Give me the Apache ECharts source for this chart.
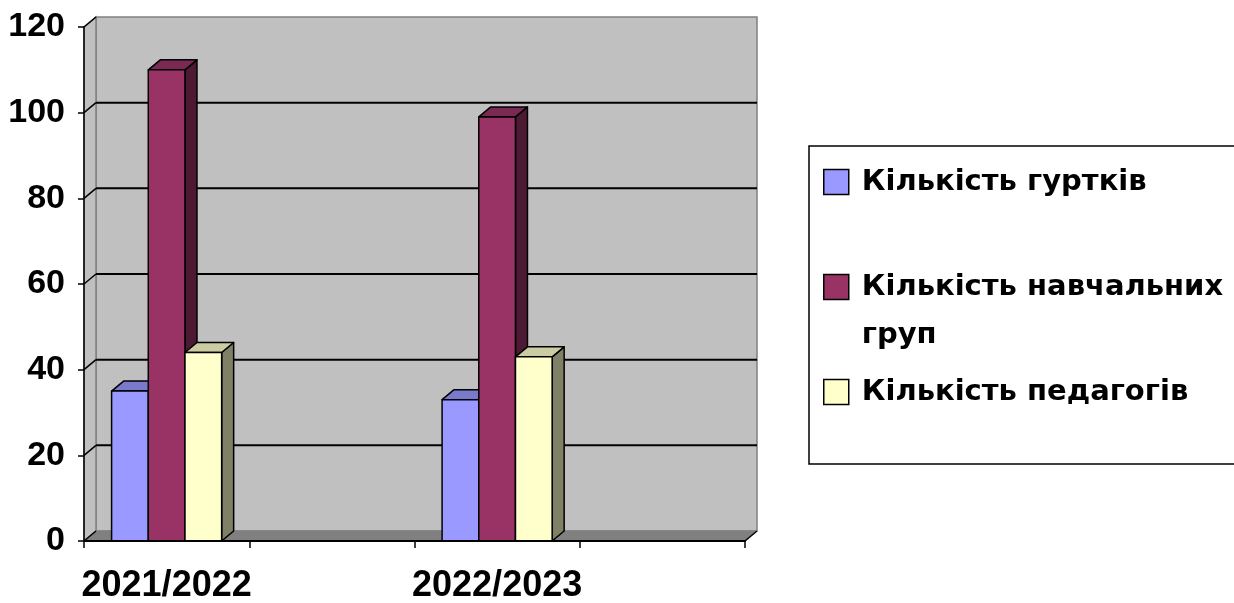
<!DOCTYPE html>
<html><head><meta charset="utf-8">
<script src="https://cdn.jsdelivr.net/npm/echarts@6/dist/echarts.min.js"></script>
<style>html,body{margin:0;padding:0;background:#fff}#c{width:1234px;height:603px}</style>
</head><body><div id="c"></div>
<script>
// ---- data ----
const categories = ['2021/2022', '', '2022/2023', ''];
const seriesNames = ['Кількість гуртків', 'Кількість навчальних груп', 'Кількість педагогів'];
const clubs = [35, null, 33, null];
const studyGroups = [110, null, 99, null];
const teachers = [44, null, 43, null];
const yTicks = [0, 20, 40, 60, 80, 100, 120];

// ---- style ----
const DX = 12, DY = 10;
const AXIS_FONT = 'Liberation Sans';
const LEGEND_FONT = 'DejaVu Sans';
const palettes = [
  { front: '#9999ff', top: '#7a7acc', side: '#4d4d80' },
  { front: '#993366', top: '#7a2952', side: '#4d1a33' },
  { front: '#ffffcc', top: '#cccca3', side: '#808066' }
];

function renderWalls(params, api) {
  const cs = params.coordSys;
  const L = cs.x, R = cs.x + cs.width, T = cs.y, B = cs.y + cs.height;
  const ch = [];
  ch.push({ type: 'rect', shape: { x: L + DX, y: T - DY, width: cs.width, height: cs.height },
    style: { fill: '#c0c0c0', stroke: '#808080', lineWidth: 1.5 } });
  ch.push({ type: 'polygon', shape: { points: [[L, B], [L, T], [L + DX, T - DY], [L + DX, B - DY]] },
    style: { fill: '#c0c0c0', stroke: '#808080', lineWidth: 1.5 } });
  yTicks.forEach(function (v, i) {
    if (v === yTicks[0]) return;
    const y = api.coord([0, v])[1];
    if (i < yTicks.length - 1) {
      ch.push({ type: 'line', shape: { x1: L + DX, y1: y - DY, x2: R + DX, y2: y - DY },
        style: { stroke: '#000', lineWidth: 2 } });
    }
    ch.push({ type: 'line', shape: { x1: L, y1: y, x2: L + DX, y2: y - DY },
      style: { stroke: '#000', lineWidth: 1.5 } });
  });
  ch.push({ type: 'polygon', shape: { points: [[L, B], [R, B], [R + DX, B - DY], [L + DX, B - DY]] },
    style: { fill: '#808080', stroke: '#808080', lineWidth: 1 } });
  ch.push({ type: 'line', shape: { x1: R, y1: B, x2: R + DX, y2: B - DY },
    style: { stroke: '#000', lineWidth: 1.5 } });
  ch.push({ type: 'line', shape: { x1: L, y1: B, x2: L + DX, y2: B - DY },
    style: { stroke: '#000', lineWidth: 1.5 } });
  return { type: 'group', children: ch };
}

function makeBarRender(idx) {
  const p = palettes[idx];
  return function (params, api) {
    const v = api.value(1);
    if (v == null || isNaN(v)) return;
    const c = api.coord([api.value(0), v]);
    const base = api.coord([api.value(0), 0]);
    const slot = api.size([1, 0])[0];
    const w = slot * 0.222;
    const x0 = c[0] + (idx - 1.5) * w;
    const x1 = x0 + w;
    const yT = c[1], yB = base[1];
    const st = { stroke: '#000', lineWidth: 1.5, lineJoin: 'round' };
    return { type: 'group', children: [
      { type: 'polygon', shape: { points: [[x1, yB], [x1, yT], [x1 + DX, yT - DY], [x1 + DX, yB - DY]] },
        style: Object.assign({ fill: p.side }, st) },
      { type: 'polygon', shape: { points: [[x0, yT], [x1, yT], [x1 + DX, yT - DY], [x0 + DX, yT - DY]] },
        style: Object.assign({ fill: p.top }, st) },
      { type: 'rect', shape: { x: x0, y: yT, width: w, height: yB - yT },
        style: Object.assign({ fill: p.front }, st) }
    ] };
  };
}

function toData(arr) {
  const out = [];
  arr.forEach(function (v, i) { if (v != null) out.push([i, v]); });
  return out;
}

const valueArrays = [clubs, studyGroups, teachers];
const barSeries = seriesNames.map(function (name, i) {
  return {
    name: name, type: 'custom', z: 2,
    renderItem: makeBarRender(i),
    itemStyle: { color: palettes[i].front, borderColor: '#000', borderWidth: 1.5 },
    encode: { x: 0, y: 1 },
    data: toData(valueArrays[i])
  };
});

const chart = echarts.init(document.getElementById('c'));
chart.setOption({
  animation: false,
  backgroundColor: '#fff',
  grid: { left: 84, right: 489, top: 27, bottom: 62, containLabel: false, outerBoundsMode: 'none' },
  xAxis: {
    type: 'category', data: categories, z: 5,
    axisLine: { lineStyle: { color: '#000', width: 2 } },
    axisTick: { show: true, interval: 0, length: 7, lineStyle: { color: '#000', width: 1.5 } },
    axisLabel: { interval: 0, margin: 27, color: '#000', fontSize: 36, fontWeight: 'bold', fontFamily: AXIS_FONT },
    splitLine: { show: false }
  },
  yAxis: {
    type: 'value', min: 0, max: 120, interval: 20, z: 5,
    axisLine: { show: true, lineStyle: { color: '#000', width: 1.5 } },
    axisTick: { show: true, length: 6, lineStyle: { color: '#000', width: 1.5 } },
    axisLabel: { margin: 19, color: '#000', fontSize: 34, fontWeight: 'bold', fontFamily: AXIS_FONT },
    splitLine: { show: false }
  },
  legend: {
    orient: 'vertical', left: 809, top: 146,
    padding: [12, 80, 48, 14],
    borderColor: '#000', borderWidth: 1.5,
    itemWidth: 25, itemHeight: 25, itemGap: 9, icon: 'rect',
    itemStyle: { borderColor: '#000', borderWidth: 1.5 },
    data: seriesNames,
    formatter: function (name) {
      if (name === seriesNames[1]) return '\nКількість навчальних\nгруп';
      return name;
    },
    textStyle: { color: '#000', fontSize: 29, fontWeight: 'bold', fontFamily: LEGEND_FONT, lineHeight: 48, padding: [0, 0, 0, 8] }
  },
  series: [{
    type: 'custom', name: 'walls', z: 1, silent: true,
    renderItem: renderWalls, data: [[0, 0]], encode: { x: 0, y: 1 }
  }].concat(barSeries)
});
</script>
</body></html>
